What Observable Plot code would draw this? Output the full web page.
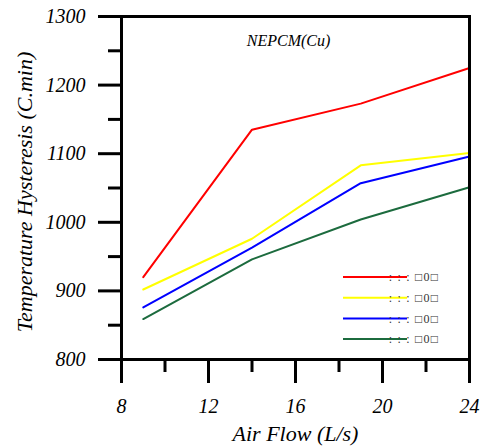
<!DOCTYPE html>
<html>
<head>
<meta charset="utf-8">
<script src="https://cdn.jsdelivr.net/npm/d3@7"></script>
<script src="https://cdn.jsdelivr.net/npm/@observablehq/plot@0.6"></script>
<style>
  html, body { margin: 0; padding: 0; background: #fff; }
  #chart svg { display: block; }
</style>
</head>
<body>
<div id="chart"></div>
<script>
// Air flow rates (L/s) at which hysteresis was measured
const airFlow = [9, 14, 19, 24];

// Temperature hysteresis (C.min) for each case
const seriesA = [920, 1135, 1173, 1225];
const seriesB = [902, 976, 1083, 1101];
const seriesC = [876, 963, 1057, 1096];
const seriesD = [859, 946, 1004, 1051];

// Legend labels, one per case
const legendLabels = [
  ":\u00A0:\u00A0:\u00A0\u25A10\u25A1",
  ":\u00A0:\u00A0:\u00A0\u25A10\u25A1",
  ":\u00A0:\u00A0:\u00A0\u25A10\u25A1",
  ":\u00A0:\u00A0:\u00A0\u25A10\u25A1"
];
const seriesKeys = ["A", "B", "C", "D"];
const seriesColors = ["#ff0000", "#ffff00", "#0000ff", "#1c6b3e"];

// Axis ticks
const xMajor = [8, 12, 16, 20, 24];
const xMinor = [10, 14, 18, 22];
const yMajor = [800, 900, 1000, 1100, 1200, 1300];
const yMinor = [850, 950, 1050, 1150, 1250];

const chartTitle = "NEPCM(Cu)";
const xLabel = "Air Flow (L/s)";
const yLabel = "Temperature Hysteresis (C.min)";

const allSeries = [seriesA, seriesB, seriesC, seriesD];
const rows = allSeries.flatMap((vals, i) =>
  vals.map((v, j) => ({ flow: airFlow[j], value: v, key: seriesKeys[i] }))
);

const font = "Liberation Serif";

// Legend drawn in the lower-right corner of the frame
function legendMark(index, scales, values, dims) {
  const g = d3.create("svg:g");
  const right = dims.width - dims.marginRight;
  const bottom = dims.height - dims.marginBottom;
  seriesKeys.forEach((k, i) => {
    const y = bottom - 82 + i * 20.7;
    g.append("line")
      .attr("x1", right - 126).attr("x2", right - 62)
      .attr("y1", y).attr("y2", y)
      .attr("stroke", scales.color(k))
      .attr("stroke-width", 2);
    g.append("text")
      .attr("x", right - 55).attr("y", y)
      .attr("dy", "0.35em")
      .attr("font-family", font)
      .attr("font-size", 12)
      .attr("letter-spacing", 1.2)
      .attr("fill", "#333")
      .text(legendLabels[i]);
  });
  return g.node();
}

const chart = Plot.plot({
  width: 484,
  height: 446,
  marginLeft: 121,
  marginRight: 15,
  marginTop: 16,
  marginBottom: 87,
  style: { fontFamily: font, background: "#fff", color: "#000" },
  x: { domain: [8, 24] },
  y: { domain: [800, 1300] },
  color: { domain: seriesKeys, range: seriesColors },
  marks: [
    // minor ticks
    Plot.axisX(xMinor, { tickSize: 13, strokeWidth: 3, text: null, label: null }),
    Plot.axisY(yMinor, { tickSize: 13, strokeWidth: 3, text: null, label: null }),
    // major ticks with labels
    Plot.axisX(xMajor, {
      tickSize: 24, tickPadding: 15, strokeWidth: 3,
      fontFamily: font, fontSize: 20, fontStyle: "italic", label: null,
      tickFormat: d => String(d)
    }),
    Plot.axisY(yMajor, {
      tickSize: 23, tickPadding: 13, strokeWidth: 3,
      fontFamily: font, fontSize: 20, fontStyle: "italic", label: null,
      tickFormat: d => String(d)
    }),
    Plot.line(rows, { x: "flow", y: "value", stroke: "key", z: "key", strokeWidth: 2 }),
    Plot.frame({ strokeWidth: 3 }),
    Plot.text([chartTitle], {
      frameAnchor: "top", lineAnchor: "middle", dx: -7, dy: 24,
      fontFamily: font, fontSize: 16, fontStyle: "italic", fill: "#000",
      letterSpacing: 1.8
    }),
    Plot.text([xLabel], {
      frameAnchor: "bottom", lineAnchor: "middle", dy: 74,
      fontFamily: font, fontSize: 22, fontStyle: "italic", fill: "#000",
      letterSpacing: 0.5
    }),
    Plot.text([yLabel], {
      frameAnchor: "left", textAnchor: "middle", lineAnchor: "middle",
      dx: -97, dy: 4, rotate: -90,
      fontFamily: font, fontSize: 22, fontStyle: "italic", fill: "#000"
    }),
    legendMark
  ]
});

document.getElementById("chart").append(chart);
</script>
</body>
</html>
